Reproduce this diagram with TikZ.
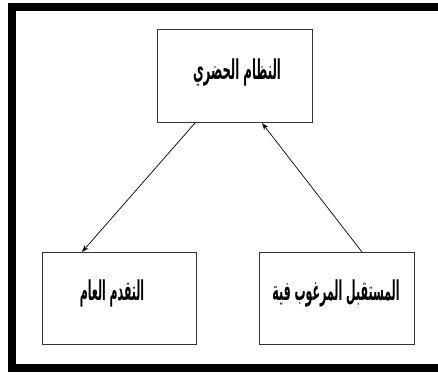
\documentclass[tikz,border=0pt]{standalone}
\usepackage{fontspec}
\usetikzlibrary{arrows.meta}
\newfontfamily\arabicfont[Script=Arabic]{DejaVu Sans}
\TeXXeTstate=1
\begin{document}
\begin{tikzpicture}[x=1pt,y=-1pt,
  box/.style={draw=black!80,line width=1pt,fill=white},
  label/.style={font=\arabicfont\bfseries\fontsize{13}{15}\selectfont,inner sep=0pt},
  link/.style={draw=black,line width=0.7pt,-{Stealth[length=7pt,width=5pt]}}]
  \useasboundingbox (0,0) rectangle (438,374);
  \clip (0,0) rectangle (438,374);
  % outer frame, open on the right
  \draw[line width=8pt] (450,7) -- (12,7) -- (12,368) -- (450,368);
  % boxes
  \draw[box] (157,30) rectangle (312,123);
  \draw[box] (42,252) rectangle (196,344);
  \draw[box] (259,252) rectangle (414,344);
  \node[label] (top) at (237,72) {\scalebox{0.9}[2.1]{\beginR النظام الحضري\endR}};
  \node[label] (left) at (112,293) {\scalebox{0.84}[2.1]{\beginR التقدم العام\endR}};
  \node[label] (right) at (336,293) {\scalebox{0.85}[2.1]{\beginR المستقبل المرغوب فية\endR}};
  % connectors
  \coordinate (topA) at (195,123);
  \coordinate (topB) at (262,123);
  \coordinate (leftT) at (82,252);
  \coordinate (rightT) at (362,252);
  \draw[link] (topA) -- (leftT);
  \draw[link] (rightT) -- (topB);
\end{tikzpicture}
\end{document}
